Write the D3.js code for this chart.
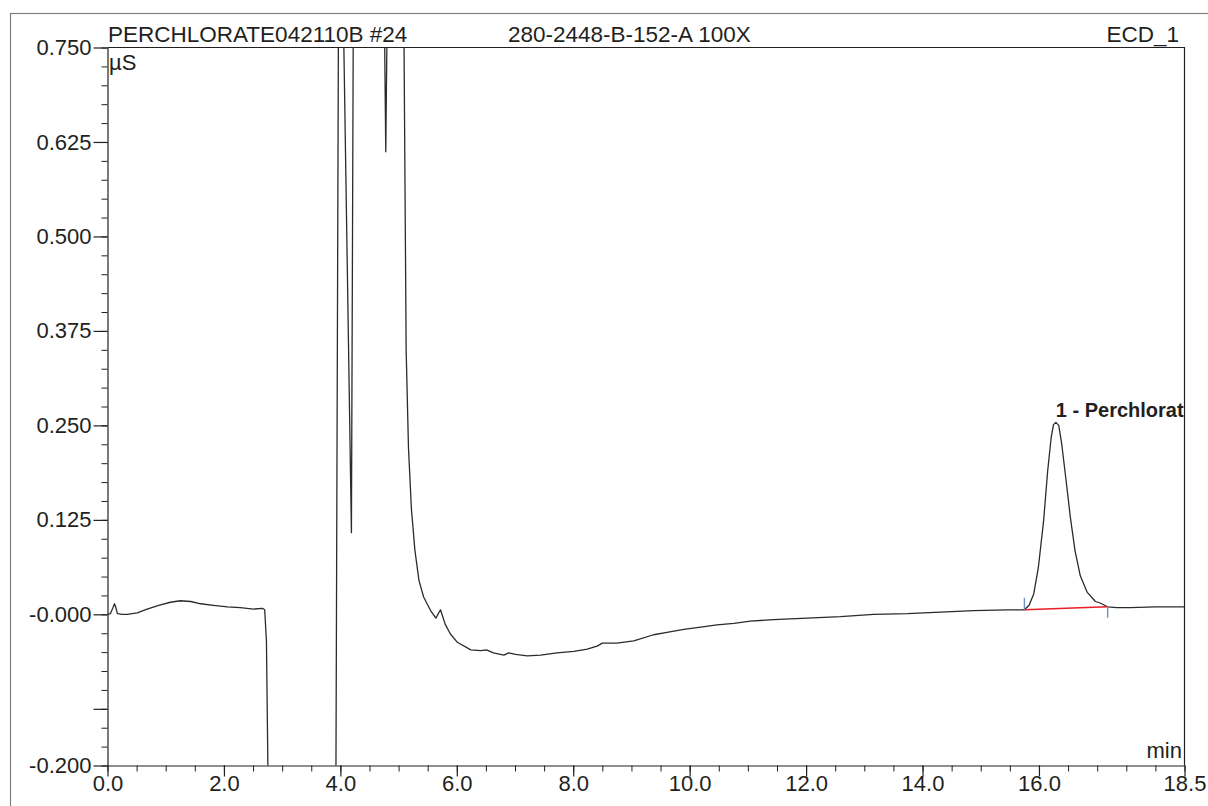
<!DOCTYPE html>
<html><head><meta charset="utf-8">
<script src="https://cdn.jsdelivr.net/npm/d3@7"></script>
<style>
body{margin:0;background:#fff;overflow:hidden}
text{font-family:"Liberation Sans",Arial,sans-serif;fill:#231f20}
</style>
</head><body><svg id="c" width="1208" height="806"></svg>
<script>
// ---- data ----
const time = [0.00,0.05,0.09,0.12,0.14,0.17,0.25,0.34,0.51,0.68,0.88,1.08,1.25,1.43,1.60,1.82,2.06,2.28,2.51,2.66,2.70,2.73,2.77,
  3.92,3.97,4.04,4.19,4.225,4.755,4.78,4.805,5.085,5.13,5.17,5.22,5.28,5.35,5.43,5.55,5.64,5.72,5.80,5.89,6.01,6.24,6.41,6.51,6.63,6.81,6.89,
  7.01,7.21,7.44,7.72,8.01,8.24,8.41,8.50,8.75,9.04,9.38,9.61,9.90,10.19,10.47,10.76,11.04,11.44,12.02,12.59,13.16,13.74,14.31,14.88,15.45,
  15.75,15.83,15.91,15.99,16.08,16.15,16.21,16.25,16.29,16.34,16.39,16.46,16.54,16.62,16.71,16.83,16.97,17.05,17.18,17.34,17.57,18.00,18.50];
const signal = [0.000,0.001,0.008,0.014,0.010,0.001,0.000,0.000,0.002,0.007,0.012,0.016,0.018,0.017,0.014,0.012,0.010,0.009,0.007,0.008,0.006,-0.035,-0.30,
  -0.30,0.85,0.85,0.108,0.85,0.80,0.612,0.80,0.85,0.35,0.22,0.14,0.085,0.045,0.023,0.005,-0.005,0.006,-0.013,-0.026,-0.037,-0.047,-0.048,-0.047,-0.051,-0.054,-0.051,
  -0.053,-0.055,-0.054,-0.051,-0.049,-0.046,-0.042,-0.038,-0.038,-0.035,-0.027,-0.024,-0.020,-0.017,-0.014,-0.012,-0.009,-0.007,-0.005,-0.003,0.000,0.001,0.003,0.005,0.006,
  0.006,0.012,0.027,0.062,0.124,0.190,0.234,0.251,0.254,0.250,0.226,0.181,0.128,0.084,0.051,0.029,0.017,0.015,0.010,0.009,0.009,0.010,0.010];

const xTickValues = [0,2,4,6,8,10,12,14,16,18.5];
const xTickLabels = ["0.0","2.0","4.0","6.0","8.0","10.0","12.0","14.0","16.0","18.5"];
const yTickValues = [0.750,0.625,0.500,0.375,0.250,0.125,0.000,-0.125,-0.200];
const yTickLabels = ["0.750","0.625","0.500","0.375","0.250","0.125","-0.000","","-0.200"];

const headerLeft = "PERCHLORATE042110B #24";
const headerMid = "280-2448-B-152-A 100X";
const headerRight = "ECD_1";
const yUnit = "µS";
const xUnit = "min";

const peakNames = ["1 - Perchlorate"];
const peakApexTime = [16.29];
const peakApexValue = [0.254];
const peakStartTime = [15.75];
const peakStartValue = [0.006];
const peakEndTime = [17.18];
const peakEndValue = [0.010];

// ---- layout ----
const L = 107.5, R = 1184.5, T = 47.5, B = 765.5;
const svg = d3.select("#c");
const x = d3.scaleLinear().domain([0, 18.5]).range([L, R]);
const y = d3.scaleLinear().domain([-0.2, 0.75]).range([B, T]);

// outer frame
svg.append("rect").attr("x", 10.5).attr("y", 13.5).attr("width", 1400).attr("height", 1000)
  .attr("fill", "none").attr("stroke", "#808080").attr("stroke-width", 1.2);

svg.append("defs").append("clipPath").attr("id", "plotclip")
  .append("rect").attr("x", L).attr("y", T).attr("width", R - L).attr("height", B - T);

// plot box (top and right)
svg.append("path").attr("d", `M${L},${T}H${R}V${B}`).attr("fill", "none").attr("stroke", "#231f20").attr("stroke-width", 1.2);

// x axis minor
const xMinor = d3.range(0, 18.51, 0.5);
svg.append("g").attr("transform", `translate(0,${B})`)
  .call(d3.axisBottom(x).tickValues(xMinor).tickSize(6).tickSizeOuter(0).tickFormat(""))
  .call(g => g.select(".domain").remove());
// x axis major
const gx = svg.append("g").attr("transform", `translate(0,${B})`)
  .call(d3.axisBottom(x).tickValues(xTickValues).tickSize(11).tickSizeOuter(0)
    .tickFormat((d, i) => xTickLabels[i]));
gx.selectAll("text").attr("y", 25).attr("dy", 0).style("font-size", "22px").attr("fill", "#231f20");

// y axis minor
const yMinor = d3.range(-0.2, 0.7501, 0.025);
svg.append("g").attr("transform", `translate(${L},0)`)
  .call(d3.axisLeft(y).tickValues(yMinor).tickSize(6).tickSizeOuter(0).tickFormat(""))
  .call(g => g.select(".domain").remove());
// y axis major
const gy = svg.append("g").attr("transform", `translate(${L},0)`)
  .call(d3.axisLeft(y).tickValues(yTickValues).tickSize(14).tickSizeOuter(0)
    .tickFormat((d, i) => yTickLabels[i]));
gy.selectAll("text").attr("x", -16).style("font-size", "22px").attr("fill", "#231f20");

[gx, gy].forEach(g => {
  g.selectAll("line").attr("stroke", "#231f20").attr("stroke-width", 1.2);
  g.select(".domain").attr("stroke", "#231f20").attr("stroke-width", 1.2);
});
svg.selectAll(".tick line").attr("stroke", "#231f20");

// header texts
svg.append("text").attr("x", 108).attr("y", 42).style("font-size", "22.5px").text(headerLeft);
svg.append("text").attr("x", 508).attr("y", 42).style("font-size", "22.5px").text(headerMid);
svg.append("text").attr("x", 1179).attr("y", 42).attr("text-anchor", "end").style("font-size", "22.5px").text(headerRight);

// units
svg.append("text").attr("x", 109).attr("y", 69.5).style("font-size", "22px").text(yUnit);
svg.append("text").attr("x", 1182).attr("y", 758).attr("text-anchor", "end").style("font-size", "22px").text(xUnit);

// trace
const pts = time.map((t, i) => [t, signal[i]]);
const plot = svg.append("g").attr("clip-path", "url(#plotclip)");
plot.append("path").datum(pts)
  .attr("d", d3.line().x(d => x(d[0])).y(d => y(d[1])))
  .attr("fill", "none").attr("stroke", "#2b2b2b").attr("stroke-width", 1.3).attr("stroke-linejoin", "round");

// peak integration baseline & markers
peakNames.forEach((name, i) => {
  plot.append("line")
    .attr("x1", x(peakStartTime[i])).attr("y1", y(peakStartValue[i]))
    .attr("x2", x(peakEndTime[i])).attr("y2", y(peakEndValue[i]))
    .attr("stroke", "#ee1c25").attr("stroke-width", 1.4);
  plot.append("line")
    .attr("x1", x(peakStartTime[i])).attr("x2", x(peakStartTime[i]))
    .attr("y1", y(peakStartValue[i]) - 12).attr("y2", y(peakStartValue[i]))
    .attr("stroke", "#6f8fc8").attr("stroke-width", 1.4);
  plot.append("line")
    .attr("x1", x(peakEndTime[i])).attr("x2", x(peakEndTime[i]))
    .attr("y1", y(peakEndValue[i])).attr("y2", y(peakEndValue[i]) + 11)
    .attr("stroke", "#6f8fc8").attr("stroke-width", 1.4);
  plot.append("text")
    .attr("x", x(peakApexTime[i])).attr("y", y(peakApexValue[i]) - 5)
    .style("font-size", "20px").style("font-weight", "bold").text(name);
});
</script>
</body></html>
